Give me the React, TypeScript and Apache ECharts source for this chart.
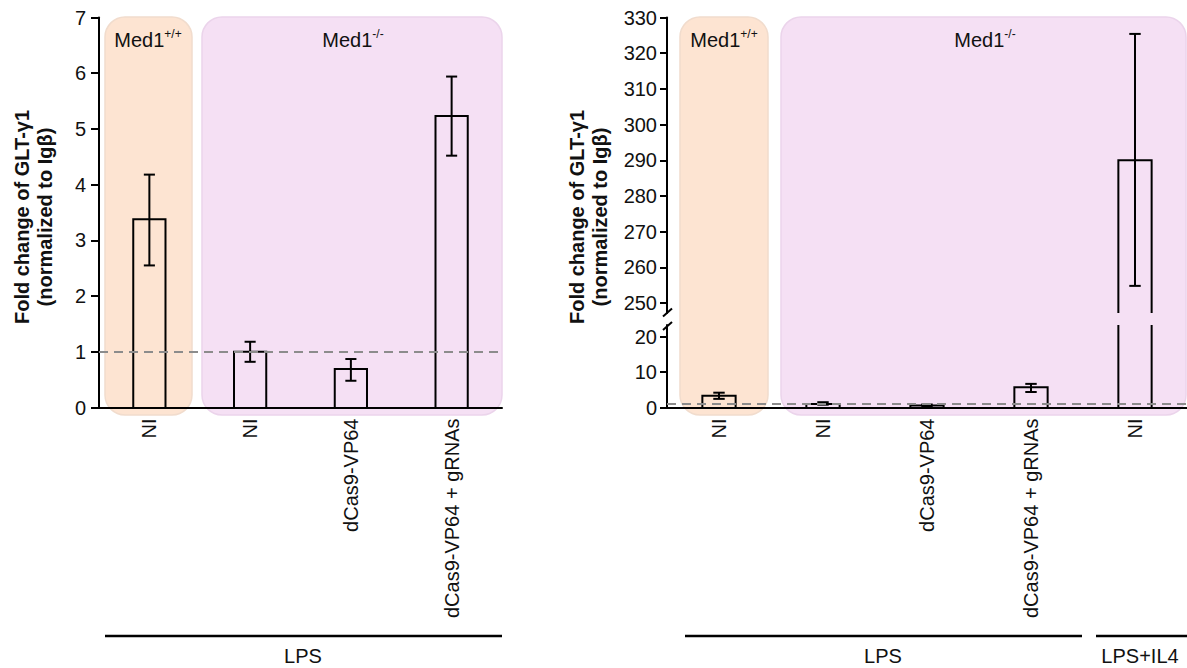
import React, { useEffect, useRef } from 'react';
import * as echarts from 'echarts';

// ---------- data ----------
const leftCategories = ['NI', 'NI', 'dCas9-VP64', 'dCas9-VP64 + gRNAs'];
const leftMeans = [3.38, 1.0, 0.69, 5.23];
const leftLow = [2.55, 0.82, 0.48, 4.52];
const leftHigh = [4.18, 1.18, 0.87, 5.94];
const leftTicks = [0, 1, 2, 3, 4, 5, 6, 7];

const rightCategories = ['NI', 'NI', 'dCas9-VP64', 'dCas9-VP64 + gRNAs', 'NI'];
const rightMeans = [3.35, 1.0, 0.6, 5.72, 290];
const rightLow = [2.45, 0.8, 0.4, 4.4, 254.8];
const rightHigh = [4.2, 1.5, 0.85, 6.7, 325.4];
const rightLowerTicks = [0, 10, 20];
const rightUpperTicks = [250, 260, 270, 280, 290, 300, 310, 320, 330];
const rightLowerMax = 23.4; // axis break: lower segment top
const rightUpperMin = 247.2; // axis break: upper segment bottom

const referenceLevel = 1;
const yTitle = 'Fold change of GLT-\u03b31\n(normalized to Ig\u03b2)';

// ---------- style ----------
const FONT = '"Liberation Sans", Arial, Helvetica, sans-serif';
const INK = '#111111';
const ORANGE = '#fde4d2';
const ORANGE_EDGE = '#f1dccd';
const PURPLE = '#f5e0f4';
const PURPLE_EDGE = '#ebd4eb';

function renderBar(params: any, api: any) {
  const i = api.value(0);
  const v = api.value(1);
  const cs = params.coordSys;
  const band = api.size([1, 0])[0];
  const w = band * 0.32;
  const p = api.coord([i, v]);
  const base = cs.y + cs.height;
  const x0 = p[0] - w / 2;
  const x1 = p[0] + w / 2;
  const style = { stroke: '#000', lineWidth: 2, fill: 'none' };
  if (p[1] < cs.y) {
    return {
      type: 'group',
      children: [
        { type: 'line', shape: { x1: x0, y1: base, x2: x0, y2: cs.y }, style },
        { type: 'line', shape: { x1: x1, y1: base, x2: x1, y2: cs.y }, style },
      ],
    };
  }
  return {
    type: 'polyline',
    shape: { points: [[x0, base], [x0, p[1]], [x1, p[1]], [x1, base]] },
    style,
  };
}

function renderErr(params: any, api: any) {
  const i = api.value(0);
  const lo = api.coord([i, api.value(1)]);
  const hi = api.coord([i, api.value(2)]);
  const band = api.size([1, 0])[0];
  const c = band * 0.055;
  const style = { stroke: '#000', lineWidth: 2 };
  return {
    type: 'group',
    children: [
      { type: 'line', shape: { x1: lo[0], y1: lo[1], x2: hi[0], y2: hi[1] }, style },
      { type: 'line', shape: { x1: lo[0] - c, y1: lo[1], x2: lo[0] + c, y2: lo[1] }, style },
      { type: 'line', shape: { x1: hi[0] - c, y1: hi[1], x2: hi[0] + c, y2: hi[1] }, style },
    ],
  };
}

const axisLineStyle = { show: true, lineStyle: { color: '#000', width: 2 } };
const yLabel = (margin: number) => ({ fontSize: 20, color: INK, fontFamily: FONT, margin });
const xLabel = { rotate: 90, interval: 0, fontSize: 20, color: INK, fontFamily: FONT, margin: 11 };

function medLabel(x: number, sup: string) {
  return {
    type: 'text',
    x,
    y: 40,
    z: 5,
    style: {
      text: `{a|Med1}{s|${sup}}`,
      align: 'center',
      verticalAlign: 'middle',
      fill: INK,
      fontFamily: FONT,
      rich: {
        a: { fontSize: 20, fontFamily: FONT, fill: INK, lineHeight: 24 },
        s: { fontSize: 12, fontFamily: FONT, fill: INK, verticalAlign: 'top', lineHeight: 24, padding: [0, 0, 8, 0] },
      },
    },
  };
}

function bgRect(x: number, w: number, fill: string, stroke: string) {
  return {
    type: 'rect',
    z: -1,
    shape: { x, y: 17, width: w, height: 398, r: 20 },
    style: { fill, stroke, lineWidth: 1.5 },
  };
}

function hLine(x1: number, x2: number, y: number) {
  return { type: 'line', z: 5, shape: { x1, y1: y, x2, y2: y }, style: { stroke: '#000', lineWidth: 2.5 } };
}

function plainText(x: number, y: number, text: string) {
  return {
    type: 'text',
    x,
    y,
    z: 5,
    style: { text, fontSize: 20, fontFamily: FONT, fill: INK, align: 'center', verticalAlign: 'middle' },
  };
}

function titleText(x: number) {
  return {
    type: 'text',
    x,
    y: 217,
    z: 5,
    rotation: Math.PI / 2,
    style: {
      text: yTitle,
      fontSize: 20,
      fontWeight: 'bold',
      lineHeight: 23,
      fontFamily: FONT,
      fill: INK,
      align: 'center',
      verticalAlign: 'middle',
    },
  };
}

function slash(yc: number) {
  return {
    type: 'line',
    z: 5,
    shape: { x1: 663, y1: yc + 4, x2: 672, y2: yc - 4 },
    style: { stroke: '#000', lineWidth: 2 },
  };
}

const lowerIdx = rightMeans.map((_, i) => i).filter((i) => rightHigh[i] <= rightLowerMax);
const upperIdx = rightMeans.map((_, i) => i).filter((i) => rightMeans[i] > rightUpperMin);

export default function App() {
  const ref = useRef<HTMLDivElement>(null);
  useEffect(() => {
    if (!ref.current) return;
    const chart = echarts.init(ref.current, undefined, { renderer: 'svg' });
    const dashed = {
      silent: true,
      symbol: ['none', 'none'],
      label: { show: false },
      lineStyle: { color: '#8c8c8c', type: [9, 6], width: 2 },
      data: [{ yAxis: referenceLevel }],
    };
    chart.setOption({
      animation: false,
      textStyle: { fontFamily: FONT },
      grid: [
        { left: 99, top: 17.5, width: 403, height: 390 },
        { left: 667, top: 325, width: 524, height: 82.5 },
        { left: 667, top: 17.5, width: 524, height: 295.5 },
      ],
      xAxis: [
        {
          type: 'category', gridIndex: 0, data: leftCategories,
          axisLine: axisLineStyle, axisTick: { show: false }, axisLabel: xLabel,
        },
        {
          type: 'category', gridIndex: 1, data: rightCategories,
          axisLine: axisLineStyle, axisTick: { show: false }, axisLabel: xLabel,
        },
        { type: 'category', gridIndex: 2, data: rightCategories, show: false },
      ],
      yAxis: [
        {
          type: 'value', gridIndex: 0, min: 0, max: 7, interval: 1,
          axisLine: axisLineStyle,
          axisTick: { show: true, length: 8, lineStyle: { color: '#000', width: 2 }, customValues: leftTicks },
          axisLabel: { ...yLabel(13), customValues: leftTicks },
          splitLine: { show: false },
        },
        {
          type: 'value', gridIndex: 1, min: 0, max: rightLowerMax,
          axisLine: axisLineStyle,
          axisTick: { show: true, length: 7, lineStyle: { color: '#000', width: 2 }, customValues: rightLowerTicks },
          axisLabel: { ...yLabel(10), customValues: rightLowerTicks },
          splitLine: { show: false },
        },
        {
          type: 'value', gridIndex: 2, min: rightUpperMin, max: 330,
          axisLine: axisLineStyle,
          axisTick: { show: true, length: 7, lineStyle: { color: '#000', width: 2 }, customValues: rightUpperTicks },
          axisLabel: { ...yLabel(10), customValues: rightUpperTicks },
          splitLine: { show: false },
        },
      ],
      series: [
        {
          type: 'custom', xAxisIndex: 0, yAxisIndex: 0, renderItem: renderBar, z: 3,
          data: leftMeans.map((v, i) => [i, v]),
        },
        {
          type: 'custom', xAxisIndex: 0, yAxisIndex: 0, renderItem: renderErr, z: 4,
          data: leftMeans.map((_, i) => [i, leftLow[i], leftHigh[i]]),
        },
        { type: 'line', xAxisIndex: 0, yAxisIndex: 0, data: [], markLine: dashed },
        {
          type: 'custom', xAxisIndex: 1, yAxisIndex: 1, renderItem: renderBar, z: 3,
          data: rightMeans.map((v, i) => [i, v]),
        },
        {
          type: 'custom', xAxisIndex: 1, yAxisIndex: 1, renderItem: renderErr, z: 4,
          data: lowerIdx.map((i) => [i, rightLow[i], rightHigh[i]]),
        },
        { type: 'line', xAxisIndex: 1, yAxisIndex: 1, data: [], markLine: dashed },
        {
          type: 'custom', xAxisIndex: 2, yAxisIndex: 2, renderItem: renderBar, z: 3,
          data: upperIdx.map((i) => [i, rightMeans[i]]),
        },
        {
          type: 'custom', xAxisIndex: 2, yAxisIndex: 2, renderItem: renderErr, z: 4,
          data: upperIdx.map((i) => [i, rightLow[i], rightHigh[i]]),
        },
      ],
      graphic: [
        bgRect(105, 87, ORANGE, ORANGE_EDGE),
        bgRect(202, 300, PURPLE, PURPLE_EDGE),
        bgRect(680, 88, ORANGE, ORANGE_EDGE),
        bgRect(781, 405, PURPLE, PURPLE_EDGE),
        medLabel(148, '+/+'),
        medLabel(353, '-/-'),
        medLabel(724, '+/+'),
        medLabel(985, '-/-'),
        titleText(33.5),
        titleText(588.5),
        hLine(105, 502, 636),
        hLine(685, 1082, 636),
        hLine(1096, 1187, 636),
        plainText(303, 656, 'LPS'),
        plainText(883, 656, 'LPS'),
        plainText(1140, 656, 'LPS+IL4'),
        slash(312.5),
        slash(326),
      ],
    });
    return () => chart.dispose();
  }, []);
  return (
    <div
      ref={ref}
      style={{ position: 'fixed', left: 0, top: 0, width: '1187px', height: '668px', background: '#fff' }}
    />
  );
}
